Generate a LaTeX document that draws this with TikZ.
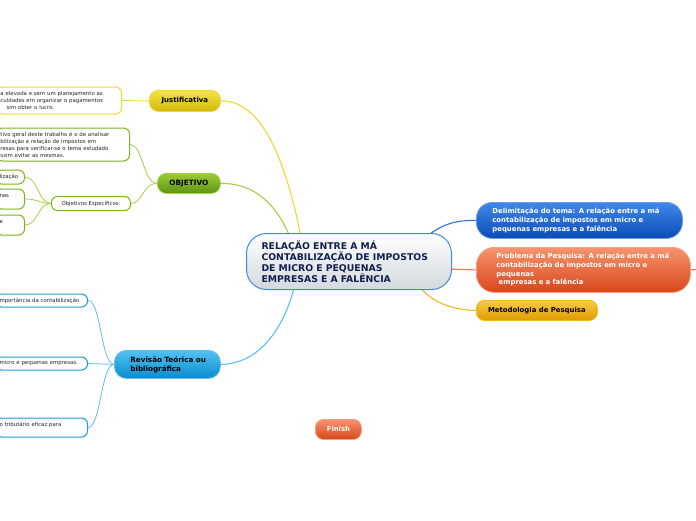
\documentclass[tikz,border=0pt]{standalone}
\usepackage{fontspec}
\setmainfont{DejaVu Sans}
\usetikzlibrary{backgrounds}

\definecolor{centralbot}{HTML}{D3D9DD}
\definecolor{centralborder}{HTML}{3C8CDC}
\definecolor{centraltext}{HTML}{10204E}
\definecolor{jtop}{HTML}{F2E446}
\definecolor{jbot}{HTML}{D2B80A}
\definecolor{jline}{HTML}{F0D830}
\definecolor{otop}{HTML}{9CCB34}
\definecolor{obot}{HTML}{5E9614}
\definecolor{oline}{HTML}{A6CF48}
\definecolor{oleaf}{HTML}{7DB51E}
\definecolor{rtop}{HTML}{52C2F2}
\definecolor{rbot}{HTML}{0A8CCE}
\definecolor{rline}{HTML}{5CC0EE}
\definecolor{rleaf}{HTML}{1E9AE0}
\definecolor{dtop}{HTML}{4088EA}
\definecolor{dbot}{HTML}{0B4CB6}
\definecolor{dline}{HTML}{2E6FD8}
\definecolor{ptop}{HTML}{F6946E}
\definecolor{pbot}{HTML}{D8461A}
\definecolor{pline}{HTML}{F07850}
\definecolor{mtop}{HTML}{F8CC44}
\definecolor{mbot}{HTML}{E09A00}
\definecolor{mline}{HTML}{F2B81C}

\begin{document}
\begin{tikzpicture}[x=1pt, y=-1pt,
    main/.style={draw=centralborder, line width=1pt, rounded corners=20pt, top color=white, bottom color=centralbot,
      anchor=north west, text=centraltext, font=\bfseries\fontsize{9.3}{11}\selectfont, align=left, inner ysep=0pt},
    branch/.style={line width=0.8pt, anchor=north west, font=\bfseries\fontsize{7}{8}\selectfont, align=center, inner sep=0pt},
    leaf/.style={draw=#1, fill=white, rounded corners=6pt, line width=1pt, anchor=east,
      font=\fontsize{5.4}{7}\selectfont, text=black!85, align=left, inner xsep=4pt, inner ysep=0pt},
    link/.style={draw=#1, line width=1.1pt}]
    \useasboundingbox (0,0) rectangle (696,520);

    \node[main, minimum width=205pt, minimum height=56pt, text width=175pt, inner xsep=15pt] (tema) at (246,233)
        {RELAÇÃO ENTRE A MÁ\\CONTABILIZAÇÃO DE IMPOSTOS\\DE MICRO E PEQUENAS\\EMPRESAS E A FALÊNCIA};

    \node[branch, draw=jline, top color=jtop, bottom color=jbot, rounded corners=9pt, minimum width=71pt, minimum height=21pt] (just) at (149,90) {Justificativa};
    \node[leaf=jline, text width=117pt, minimum height=27pt] (justtxt) at (122,100.5)
        {a elevada e sem um planejamento as\\culdades em organizar o pagamentos\\\phantom{as}sim obter o lucro.};

    \node[branch, draw=oline, top color=otop, bottom color=obot, rounded corners=9pt, minimum width=63pt, minimum height=20pt,
        font=\bfseries\fontsize{7.3}{8}\selectfont] (obj) at (157,173) {OBJETIVO};
    \node[leaf=oleaf, text width=125pt, minimum height=33pt] (objgeral) at (130,144.5)
        {tivo geral deste trabalho é o de analisar\\bilização e relação de impostos em\\resas para verificar-se o tema estudado\\ssim evitar as mesmas.};
    \node[leaf=oleaf, anchor=north west, align=center, minimum width=79pt, minimum height=14pt] (objesp) at (51,196) {Objetivos Específicos:};
    \node[leaf=oleaf, text width=21pt, minimum height=14pt] (esp1) at (25,177) {lização};
    \node[leaf=oleaf, text width=21pt, minimum height=20pt] (esp2) at (25,199) {nas\\\mbox{}};
    \node[leaf=oleaf, text width=21pt, minimum height=20pt] (esp3) at (25,225) {e\\\mbox{}};

    \node[branch, draw=rline, top color=rtop, bottom color=rbot, rounded corners=12pt, minimum width=106pt, minimum height=28pt,
        text width=84pt, inner xsep=11pt, align=left, font=\bfseries\fontsize{7.2}{9}\selectfont] (rev) at (114,350)
        {\hspace{5pt}Revisão Teórica ou\\\hspace{5pt}bibliográfica};
    \node[leaf=rleaf, text width=84pt, minimum height=13pt] (rev1) at (88,300.5) {mportância da contabilização};
    \node[leaf=rleaf, text width=84pt, minimum height=13pt] (rev2) at (88,363.5) {micro e pequenas empresas.};
    \node[leaf=rleaf, text width=84pt, minimum height=19pt] (rev3) at (88,427.5) {o tributário eficaz para\\\mbox{}};

    \node[branch, draw=dline!70!white, top color=dtop, bottom color=dbot, text=white, rounded corners=16pt, minimum width=206pt, minimum height=36pt,
        text width=186pt, inner xsep=10pt, align=left, font=\bfseries\fontsize{6.9}{9}\selectfont] (delim) at (476,202)
        {\hspace{6pt}Delimitação do tema: A relação entre a má\\\hspace{6pt}contabilização de impostos em micro e\\\hspace{6pt}pequenas empresas e a falência};
    \node[branch, draw=pline!70!white, top color=ptop, bottom color=pbot, text=white, rounded corners=18pt, minimum width=214pt, minimum height=45pt,
        text width=194pt, inner xsep=10pt, align=left, font=\bfseries\fontsize{6.9}{8.7}\selectfont] (prob) at (476,247)
        {\hspace{10pt}Problema da Pesquisa: A relação entre a má\\\hspace{10pt}contabilização de impostos em micro e\\\hspace{10pt}pequenas\\\hspace{10pt}\ empresas e a falência};
    \node[branch, draw=mline, top color=mtop, bottom color=mbot, rounded corners=8pt, minimum width=121pt, minimum height=20pt,
        font=\bfseries\fontsize{6.9}{8}\selectfont] (met) at (476,300) {Metodologia de Pesquisa};
    \node[branch, draw=pline!70!white, top color=ptop, bottom color=pbot, text=white, rounded corners=8pt, minimum width=46pt, minimum height=20pt,
        font=\bfseries\fontsize{6.8}{8}\selectfont] (fim) at (315,419) {Finish};
    \coordinate (probout) at (705,269);

    \begin{pgfonlayer}{background}
        \fill[white] (0,0) rectangle (696,520);
        \draw[link=jline] (just.east) .. controls (265,100) and (288,170) .. (302,242);
        \draw[link=oline] (obj.east) .. controls (255,183) and (278,205) .. (292,242);
        \draw[link=rline] (rev.east) .. controls (258,364) and (285,330) .. (296,280);
        \draw[link=dline] (420,242) .. controls (438,226) and (452,220) .. (delim.west);
        \draw[link=pline] (445,269) -- (prob.west);
        \draw[link=pline] (prob.east) -- (probout);
        \draw[link=mline] (415,280) .. controls (428,302) and (452,310) .. (met.west);
        \draw[link=jline, line width=0.8pt] (just.west) -- (justtxt.east);
        \draw[link=oline, line width=0.8pt] (obj.west) .. controls (143,183) and (143,144.5) .. (objgeral.east);
        \draw[link=oline, line width=0.8pt] (obj.west) .. controls (143,183) and (143,203) .. (objesp.east);
        \draw[link=oline, line width=0.8pt] (objesp.west) .. controls (38,203) and (38,177) .. (esp1.east);
        \draw[link=oline, line width=0.8pt] (objesp.west) .. controls (38,203) and (38,199) .. (esp2.east);
        \draw[link=oline, line width=0.8pt] (objesp.west) .. controls (38,203) and (38,225) .. (esp3.east);
        \draw[link=rline, line width=0.8pt] (rev.west) .. controls (101,364) and (101,300.5) .. (rev1.east);
        \draw[link=rline, line width=0.8pt] (rev.west) -- (rev2.east);
        \draw[link=rline, line width=0.8pt] (rev.west) .. controls (101,364) and (101,427.5) .. (rev3.east);
    \end{pgfonlayer}
\end{tikzpicture}
\end{document}
